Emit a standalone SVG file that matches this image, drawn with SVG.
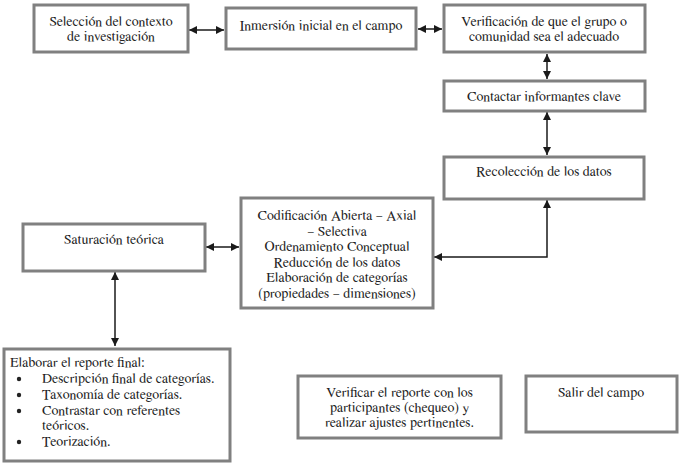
<svg xmlns="http://www.w3.org/2000/svg" width="683" height="464" viewBox="0 0 683 464">
  <style>
    .box { fill: #ffffff; stroke: #808080; stroke-width: 3; }
    .t { font-family: FreeSerif, 'Liberation Serif', 'Times New Roman', serif; font-size: 14px; fill: #222222; }
    .c { text-anchor: middle; }
    .link { fill: none; stroke: #1a1a1a; stroke-width: 1.5; }
  </style>
  <defs>
    <marker id="head" viewBox="0 0 10 10" refX="10" refY="5" markerWidth="8" markerHeight="8" markerUnits="userSpaceOnUse" orient="auto-start-reverse">
      <path d="M0,0 L10,5 L0,10 Z" fill="#1a1a1a"/>
    </marker>
  </defs>

  <rect width="683" height="464" fill="#ffffff"/>

  <g id="connectors">
    <line class="link" x1="189" y1="30" x2="224" y2="30" marker-start="url(#head)" marker-end="url(#head)"/>
    <line class="link" x1="418" y1="29" x2="442" y2="29" marker-start="url(#head)" marker-end="url(#head)"/>
    <line class="link" x1="547" y1="54" x2="547" y2="79" marker-start="url(#head)" marker-end="url(#head)"/>
    <line class="link" x1="547" y1="112" x2="547" y2="155" marker-start="url(#head)" marker-end="url(#head)"/>
    <polyline class="link" points="547,200 547,257 434,257" marker-start="url(#head)" marker-end="url(#head)"/>
    <line class="link" x1="206" y1="247" x2="239" y2="247" marker-start="url(#head)" marker-end="url(#head)"/>
    <line class="link" x1="115" y1="272" x2="115" y2="346" marker-start="url(#head)" marker-end="url(#head)"/>
  </g>

  <g id="seleccion">
    <rect class="box" x="34" y="5" width="154" height="47"/>
    <text class="t c" x="111" y="26">Selección del contexto</text>
    <text class="t c" x="111" y="41">de investigación</text>
  </g>

  <g id="inmersion">
    <rect class="box" x="226" y="8" width="190" height="41"/>
    <text class="t c" x="321" y="30">Inmersión inicial en el campo</text>
  </g>

  <g id="verificacion">
    <rect class="box" x="444" y="5" width="201" height="47"/>
    <text class="t c" x="544" y="26">Verificación de que el grupo o</text>
    <text class="t c" x="544" y="41">comunidad sea el adecuado</text>
  </g>

  <g id="contactar">
    <rect class="box" x="444" y="81" width="201" height="30"/>
    <text class="t c" x="544" y="101">Contactar informantes clave</text>
  </g>

  <g id="recoleccion">
    <rect class="box" x="444" y="157" width="200" height="42"/>
    <text class="t c" x="544" y="176">Recolección de los datos</text>
  </g>

  <g id="codificacion">
    <rect class="box" x="241" y="198" width="192" height="110"/>
    <text class="t c" x="337" y="220">Codificación Abierta – Axial</text>
    <text class="t c" x="337" y="235.5">– Selectiva</text>
    <text class="t c" x="337" y="251">Ordenamiento Conceptual</text>
    <text class="t c" x="337" y="266.5">Reducción de los datos</text>
    <text class="t c" x="337" y="282">Elaboración de categorías</text>
    <text class="t c" x="337" y="297.5">(propiedades – dimensiones)</text>
  </g>

  <g id="saturacion">
    <rect class="box" x="23" y="224" width="182" height="47"/>
    <text class="t c" x="114" y="244">Saturación teórica</text>
  </g>

  <g id="reporte">
    <rect class="box" x="4" y="349" width="226" height="112"/>
    <text class="t" x="10" y="367">Elaborar el reporte final:</text>
    <circle cx="19" cy="379" r="2.2" fill="#222222"/>
    <text class="t" x="42" y="383">Descripción final de categorías.</text>
    <circle cx="19" cy="395" r="2.2" fill="#222222"/>
    <text class="t" x="42" y="399">Taxonomía de categorías.</text>
    <circle cx="19" cy="411" r="2.2" fill="#222222"/>
    <text class="t" x="42" y="415">Contrastar con referentes</text>
    <text class="t" x="42" y="430">teóricos.</text>
    <circle cx="19" cy="442" r="2.2" fill="#222222"/>
    <text class="t" x="42" y="446">Teorización.</text>
  </g>

  <g id="verificar-reporte">
    <rect class="box" x="298" y="376" width="203" height="62"/>
    <text class="t c" x="399.5" y="397">Verificar el reporte con los</text>
    <text class="t c" x="399.5" y="412">participantes (chequeo) y</text>
    <text class="t c" x="399.5" y="427">realizar ajustes pertinentes.</text>
  </g>

  <g id="salir">
    <rect class="box" x="526" y="376" width="151" height="56"/>
    <text class="t c" x="601" y="397">Salir del campo</text>
  </g>
</svg>
